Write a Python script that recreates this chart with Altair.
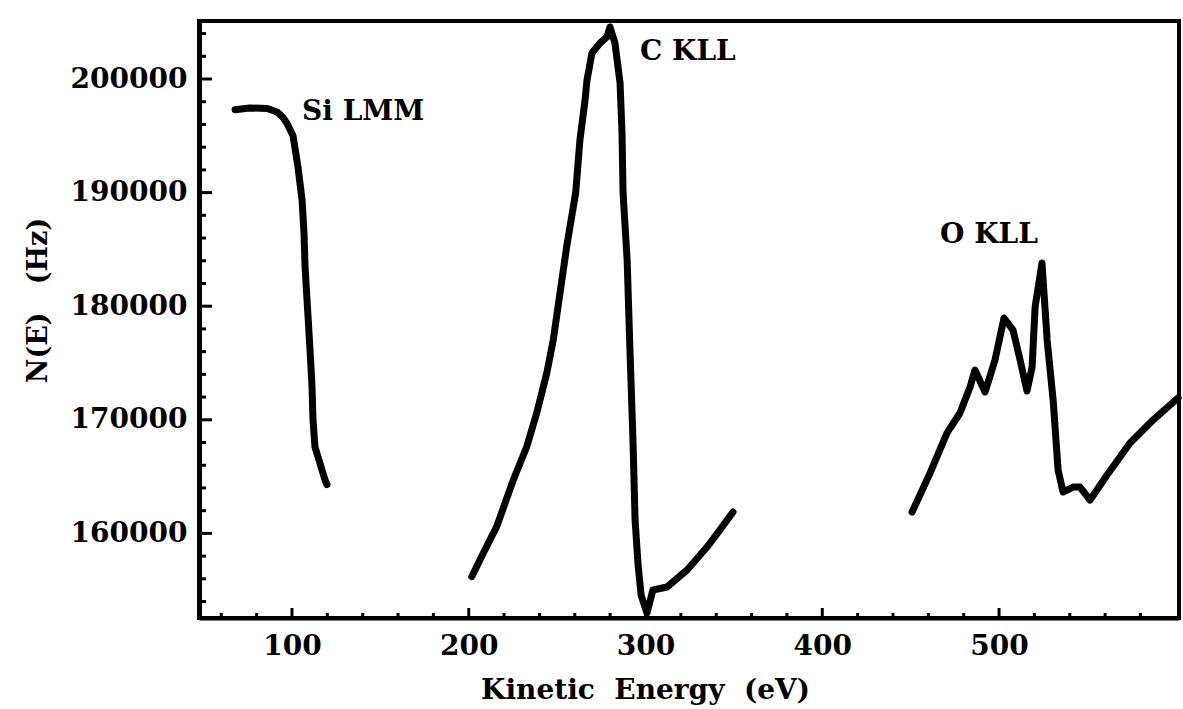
import altair as alt
import pandas as pd

# ---- data ----
si_energy = [67.8, 76, 86, 91.5, 95, 97.5, 100.6, 103.4, 105.7, 106.8, 107.4, 109.1,
             110.2, 111.3, 111.9, 113.0, 115.8, 118.7, 119.8]
si_counts = [197300, 197450, 197400, 197100, 196600, 196000, 195000, 192250, 189350,
             186440, 183450, 179050, 176140, 173060, 169980, 167600, 166200, 164700, 164300]

c_energy = [201.7, 208.2, 215.8, 225.2, 232.8, 238.4, 244.1, 247.8, 251.6, 255.4, 260.5,
            262.9, 265.8, 266.9, 269.7, 274.3, 278.2, 279.9,
            282.7, 285.6, 286.7, 287.3, 289.6, 291.2, 292.9, 294.1, 295.8, 297.5, 300.8,
            304.2, 312.2, 323.5, 334.8, 342.1, 349.5]
c_counts = [156190, 158250, 160590, 164700, 167630, 170570, 174090, 177020, 181130, 185240,
            190000, 194630, 198150, 199910, 202290, 203170, 203700, 204580,
            203170, 199650, 195250, 189960, 184070, 176140, 168220, 161180, 157220, 154580,
            152990, 155020, 155280, 156780, 158800, 160300, 161880]

o_energy = [450.8, 461.0, 470.6, 477.9, 483.6, 486.4, 492.1, 497.7, 502.8, 507.9, 511.9,
            515.8, 518.7, 520.4, 524.3, 527.2, 530.6, 533.4, 536.2, 541.9, 545.8, 551.5,
            561.1, 574.1, 587.1, 601.3]
o_counts = [161880, 165320, 168840, 170600, 172890, 174380, 172450, 175260, 178960, 177900,
            175260, 172530, 174650, 179930, 183800, 177020, 171740, 165580, 163640, 164080,
            164080, 162940, 165140, 167960, 169980, 171920]

peak_labels = ["Si LMM", "C KLL", "O KLL"]
label_energy = [105.7, 296.9, 466.6]
label_counts = [197100, 202380, 186270]

x_label_values = [100, 200, 300, 400, 500]
x_minor_values = [60, 80, 120, 140, 160, 180, 220, 240, 260, 280, 320, 340, 360, 380,
                  420, 440, 460, 480, 520, 540, 560, 580]
y_label_values = [160000, 170000, 180000, 190000, 200000]
y_minor_values = [154000, 156000, 158000, 162000, 164000, 166000, 168000, 172000, 174000,
                  176000, 178000, 182000, 184000, 186000, 188000, 192000, 194000, 196000,
                  198000, 202000, 204000]

X_DOMAIN = [47.4, 601.8]
Y_DOMAIN = [152552, 205106]

# ---- tables ----
rows = []
for name, es, ns in [("Si", si_energy, si_counts), ("C", c_energy, c_counts), ("O", o_energy, o_counts)]:
    for i, (e, n) in enumerate(zip(es, ns)):
        rows.append({"series": name, "energy": e, "counts": n, "order": i})
df = pd.DataFrame(rows)
labels_df = pd.DataFrame({"label": peak_labels, "energy": label_energy, "counts": label_counts})

FONT = "DejaVu Serif"
W, H = 980, 597

xs = alt.Scale(domain=X_DOMAIN, nice=False, zero=False)
ys = alt.Scale(domain=Y_DOMAIN, nice=False, zero=False)

x_axis = alt.Axis(values=x_label_values, format="d", ticks=False, grid=False,
                  domain=True, domainColor="black", domainWidth=4,
                  labelFont=FONT, labelFontSize=28, labelFontWeight="bold",
                  labelColor="black", labelPadding=14,
                  title="Kinetic\u00a0 Energy\u00a0 (eV)",
                  titleFont=FONT, titleFontSize=28, titleFontWeight="bold",
                  titleColor="black", titleX=446, titleY=72,
                  titleBaseline="middle", titleAlign="center")
y_axis = alt.Axis(values=y_label_values, format="d", ticks=False, grid=False,
                  domain=True, domainColor="black", domainWidth=5,
                  labelFont=FONT, labelFontSize=28, labelFontWeight="bold",
                  labelColor="black", labelPadding=12,
                  title="N(E)\u00a0 \u00a0(Hz)",
                  titleFont=FONT, titleFontSize=27, titleFontWeight="bold",
                  titleColor="black", titleX=-161, titleY=279,
                  titleBaseline="middle", titleAlign="center", titleAngle=270)

lines = alt.Chart(df).mark_line(
    color="black", strokeWidth=7, strokeJoin="round", strokeCap="round"
).encode(
    x=alt.X("energy:Q", scale=xs, axis=x_axis),
    y=alt.Y("counts:Q", scale=ys, axis=y_axis),
    detail="series:N",
    order="order:Q",
)

y_major = alt.Chart(pd.DataFrame({"counts": y_label_values})).mark_rule(
    color="black", strokeWidth=3).encode(
    y=alt.Y("counts:Q", scale=ys, axis=y_axis), x=alt.value(0), x2=alt.value(13))
y_minor = alt.Chart(pd.DataFrame({"counts": y_minor_values})).mark_rule(
    color="black", strokeWidth=3).encode(
    y=alt.Y("counts:Q", scale=ys, axis=y_axis), x=alt.value(0), x2=alt.value(7))
x_major = alt.Chart(pd.DataFrame({"energy": x_label_values})).mark_rule(
    color="black", strokeWidth=3).encode(
    x=alt.X("energy:Q", scale=xs, axis=x_axis), y=alt.value(H), y2=alt.value(H - 10))
x_minor = alt.Chart(pd.DataFrame({"energy": x_minor_values})).mark_rule(
    color="black", strokeWidth=3).encode(
    x=alt.X("energy:Q", scale=xs, axis=x_axis), y=alt.value(H), y2=alt.value(H - 5))

texts = alt.Chart(labels_df).mark_text(
    font=FONT, fontSize=28, fontWeight="bold", color="black",
    align="left", baseline="middle").encode(
    x=alt.X("energy:Q", scale=xs, axis=x_axis),
    y=alt.Y("counts:Q", scale=ys, axis=y_axis),
    text="label:N")

chart = alt.layer(lines, y_major, y_minor, x_major, x_minor, texts).properties(
    width=W, height=H,
    padding={"left": 199, "top": 21, "right": 4, "bottom": 91},
    autosize=alt.AutoSizeParams(type="none"),
    background="white",
).configure_view(stroke="black", strokeWidth=4)

chart.save("out.html", embed_options={"renderer": "svg", "actions": False})
